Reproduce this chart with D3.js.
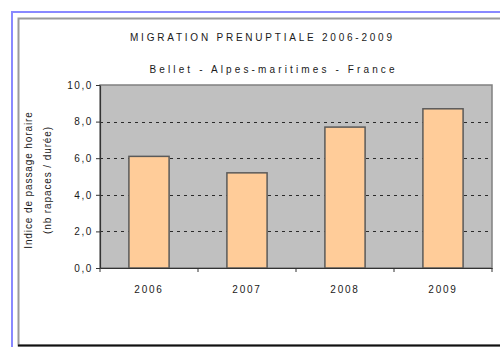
<!DOCTYPE html>
<html>
<head>
<meta charset="utf-8">
<script src="https://cdn.jsdelivr.net/npm/d3@7"></script>
<style>
  html, body { margin: 0; padding: 0; background: #ffffff; }
  svg { display: block; }
  text { font-family: "Liberation Sans", Arial, sans-serif; fill: #1a1a1a; }
</style>
</head>
<body>
<svg id="chart" width="500" height="347"></svg>
<script>
// Migration data: hourly passage index per year
const years = ["2006", "2007", "2008", "2009"];
const passageIndex = [6.1, 5.2, 7.7, 8.7];
const yTicks = [0, 2, 4, 6, 8, 10];
const titleText = "MIGRATION PRENUPTIALE 2006-2009";
const subtitleText = "Bellet - Alpes-maritimes - France";
const yLabelLines = ["Indice de passage horaire", "(nb rapaces / durée)"];

const svg = d3.select("#chart");

// Outer frame (blue) and chart frame (dark)
svg.append("rect")
  .attr("x", 12).attr("y", 12).attr("width", 520).attr("height", 360)
  .attr("fill", "none").attr("stroke", "#8888ff").attr("stroke-width", 2);
svg.append("rect")
  .attr("x", 18.5).attr("y", 18.5).attr("width", 500).attr("height", 327)
  .attr("fill", "none").attr("stroke", "#9a9a9a").attr("stroke-width", 2);
svg.append("line")
  .attr("x1", 18).attr("x2", 500).attr("y1", 345.5).attr("y2", 345.5)
  .attr("stroke", "#111").attr("stroke-width", 2);

const plot = { left: 100, top: 85, right: 492, bottom: 268 };

const x = d3.scaleBand()
  .domain(years)
  .range([plot.left, plot.right])
  .paddingInner(0.59)
  .paddingOuter(0.295);

const y = d3.scaleLinear()
  .domain([0, 10])
  .range([plot.bottom, plot.top]);

// Plot area
svg.append("rect")
  .attr("x", plot.left).attr("y", plot.top)
  .attr("width", plot.right - plot.left).attr("height", plot.bottom - plot.top)
  .attr("fill", "#c0c0c0").attr("stroke", "#808080").attr("stroke-width", 1.5);

// Dashed gridlines
svg.append("g")
  .selectAll("line")
  .data(yTicks.filter(d => d > 0 && d < 10))
  .join("line")
  .attr("x1", plot.left).attr("x2", plot.right)
  .attr("y1", d => Math.round(y(d)) + 0.5).attr("y2", d => Math.round(y(d)) + 0.5)
  .attr("stroke", "#2a2a2a").attr("stroke-width", 1.2)
  .attr("stroke-dasharray", "3,4");

// Bars
svg.append("g")
  .selectAll("rect")
  .data(years.map((yr, i) => ({ yr, v: passageIndex[i] })))
  .join("rect")
  .attr("x", d => x(d.yr))
  .attr("y", d => y(d.v))
  .attr("width", x.bandwidth())
  .attr("height", d => y(0) - y(d.v))
  .attr("fill", "#ffcc99")
  .attr("stroke", "#5a5a5a")
  .attr("stroke-width", 1.5);

// Y axis
const fmt = d => d3.format(".1f")(d).replace(".", ",");
const yAxis = svg.append("g")
  .attr("transform", `translate(${plot.left},0)`)
  .call(d3.axisLeft(y).tickValues(yTicks).tickSize(4).tickSizeOuter(0).tickFormat(fmt));
yAxis.select(".domain").attr("stroke", "#333").attr("stroke-width", 1.2);
yAxis.selectAll(".tick line").attr("stroke", "#333");
yAxis.selectAll(".tick text")
  .attr("x", -7)
  .style("font-size", "10px")
  .style("letter-spacing", "1.6px")
  .attr("fill", "#1a1a1a");

// X axis with tick marks at category boundaries
const xAxis = svg.append("g")
  .attr("transform", `translate(0,${plot.bottom})`)
  .call(d3.axisBottom(x).tickSize(0).tickSizeOuter(0));
xAxis.select(".domain").attr("stroke", "#333").attr("stroke-width", 1.2);
xAxis.selectAll(".tick text")
  .attr("y", 18)
  .style("font-size", "10px")
  .style("letter-spacing", "1.8px")
  .attr("fill", "#1a1a1a");
const step = x.step();
svg.append("g")
  .selectAll("line")
  .data(d3.range(years.length + 1))
  .join("line")
  .attr("x1", i => plot.left + i * step).attr("x2", i => plot.left + i * step)
  .attr("y1", plot.bottom).attr("y2", plot.bottom + 4)
  .attr("stroke", "#333");

// Titles
svg.append("text")
  .attr("x", 261).attr("y", 41)
  .attr("text-anchor", "middle")
  .attr("textLength", 262).attr("lengthAdjust", "spacing")
  .style("font-size", "10px")
  .text(titleText);
svg.append("text")
  .attr("x", 272).attr("y", 73)
  .attr("text-anchor", "middle")
  .attr("textLength", 245).attr("lengthAdjust", "spacing")
  .style("font-size", "10px")
  .text(subtitleText);

// Y axis title, two rotated lines
const yl = svg.append("text")
  .attr("transform", "translate(32,180) rotate(-90)")
  .attr("text-anchor", "middle")
  .style("font-size", "10px")
  .style("letter-spacing", "0.9px");
yl.selectAll("tspan")
  .data(yLabelLines)
  .join("tspan")
  .attr("x", 0)
  .attr("dy", (d, i) => i === 0 ? 0 : 19)
  .text(d => d);
</script>
</body>
</html>
